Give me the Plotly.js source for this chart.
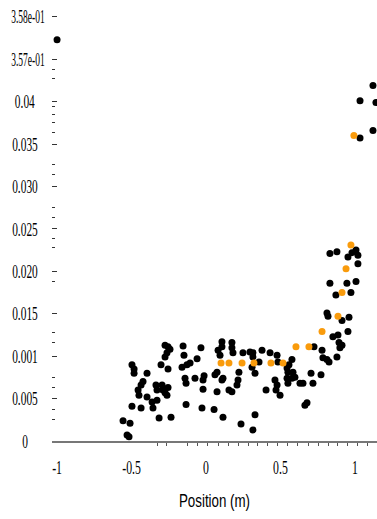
<!DOCTYPE html>
<html>
<head>
<meta charset="utf-8">
<script src="https://cdn.plot.ly/plotly-3.0.1.min.js"></script>
<style>
html,body{margin:0;padding:0;background:#fff;}
#chart{width:377px;height:519px;}
</style>
</head>
<body>
<div id="chart"></div>
<script>
// Black measurement points: position (m) and value
const blackX = [
 -0.275,-0.255,-0.242,-0.262,-0.275,-0.154,-0.148,-0.034,-0.060,-0.107,
 -0.128,-0.161,-0.302,-0.255,-0.497,-0.483,-0.483,-0.396,-0.141,-0.134,
 -0.074,-0.020,-0.020,-0.423,-0.436,-0.456,-0.450,-0.336,-0.329,-0.295,
 -0.289,-0.275,-0.255,-0.262,-0.396,-0.362,-0.356,-0.329,-0.497,-0.436,
 -0.134,-0.027,-0.315,-0.235,-0.557,-0.510,-0.530,-0.517,
 0.107,0.107,0.081,0.094,0.174,0.174,0.181,0.248,0.295,0.315,
 0.315,0.376,0.356,0.430,0.477,0.483,0.577,0.557,0.544,0.550,
 0.584,0.597,0.577,0.544,0.550,0.631,0.651,0.074,0.060,-0.013,
 0.114,0.107,0.221,0.215,0.208,0.309,0.329,0.074,0.154,0.174,
 0.403,0.463,0.477,0.470,0.497,0.054,0.114,0.329,0.235,0.315,
 1.007,1.020,0.980,0.953,0.879,0.832,1.020,1.007,0.946,0.832,
 0.973,0.872,0.812,0.819,0.913,0.960,0.953,0.852,0.886,0.893,
 0.913,0.899,0.725,0.779,0.785,0.812,0.826,0.879,0.705,0.772,
 0.718,0.678,0.664,
 1.121,1.034,1.141,1.121,1.034,-1.000
];
const blackY = [
 0.0113,0.0111,0.0108,0.0104,0.0099,0.0112,0.0101,0.0110,0.0097,0.0092,
 0.0090,0.0087,0.0090,0.0085,0.0090,0.0085,0.0080,0.0080,0.0074,0.0068,
 0.0074,0.0072,0.0061,0.0070,0.0066,0.0060,0.0054,0.0066,0.0060,0.0066,
 0.0060,0.0057,0.0063,0.0054,0.0052,0.0046,0.0039,0.0048,0.0041,0.0039,
 0.0043,0.0039,0.0027,0.0028,0.0024,0.0021,0.0007,0.0005,
 0.0117,0.0111,0.0107,0.0101,0.0116,0.0110,0.0104,0.0104,0.0105,0.0104,
 0.0099,0.0107,0.0093,0.0104,0.0101,0.0093,0.0096,0.0090,0.0086,0.0081,
 0.0081,0.0075,0.0074,0.0074,0.0068,0.0068,0.0068,0.0081,0.0078,0.0077,
 0.0074,0.0072,0.0081,0.0072,0.0066,0.0087,0.0080,0.0058,0.0060,0.0058,
 0.0060,0.0072,0.0066,0.0060,0.0054,0.0037,0.0028,0.0031,0.0020,0.0013,
 0.0225,0.0219,0.0222,0.0217,0.0223,0.0221,0.0209,0.0188,0.0186,0.0186,
 0.0175,0.0172,0.0151,0.0147,0.0142,0.0146,0.0129,0.0123,0.0125,0.0116,
 0.0113,0.0110,0.0111,0.0107,0.0098,0.0096,0.0093,0.0099,0.0080,0.0078,
 0.0068,0.0045,0.0042,
 0.0419,0.0401,0.0399,0.0366,0.0357,0.0473
];
// Orange points
const orangeX = [0.101,0.154,0.242,0.322,0.436,0.517,0.604,0.691,0.779,0.886,0.913,0.940,0.973,0.993];
const orangeY = [0.0092,0.0092,0.0092,0.0092,0.0092,0.0092,0.0111,0.0111,0.0129,0.0147,0.0175,0.0203,0.0231,0.0360];

// Axis ticks
const xTickVals = [-1,-0.5,0,0.5,1];
const xTickText = ["-1","-0.5","0","0.5","1"];
const xMinorVals = [-0.329,-0.262,-0.121,-0.054,0.013,0.081,0.148,0.215,0.282,0.349,0.416,0.483,0.550,0.617,0.685,0.752,0.819,0.886,0.953,1.020,1.087];
const yTickVals = [0,0.005,0.010,0.015,0.020,0.025,0.030,0.035,0.040,0.045,0.050];
const yTickText = ["0","0.005","0.001","0.015","0.020","0.025","0.030","0.035","0.04","3.57e-01","3.58e-01"];
const yMinorVals = [0.00248,0.00366,0.00625,0.00743,0.01156,0.01274,0.01875,0.02276,0.02382,0.02630,0.02748,0.03137,0.03255,0.03632,0.03750,0.03844,0.03939,0.04269,0.04375];

const traces = [
  {x: blackX, y: blackY, type:'scatter', mode:'markers',
   marker:{color:'#000000', size:7}, hoverinfo:'x+y', showlegend:false},
  {x: orangeX, y: orangeY, type:'scatter', mode:'markers',
   marker:{color:'#F99B0C', size:7}, hoverinfo:'x+y', showlegend:false}
];

const tickFont = {family:'"Liberation Serif", "Times New Roman", serif', size:19, color:'#000'};

const layout = {
  width:377, height:519,
  margin:{l:52, r:0, t:10, b:78},
  paper_bgcolor:'#fff', plot_bgcolor:'#fff',
  showlegend:false,
  xaxis:{
    range:[-1.034, 1.148],
    tickmode:'array', tickvals:xTickVals, ticktext:xTickText,
    ticks:'', showgrid:false, zeroline:false,
    showline:true, linecolor:'#777', linewidth:2,
    tickfont:tickFont, ticklabelstandoff:8,
    minor:{tickmode:'array', tickvals:xMinorVals, ticks:'outside', ticklen:3, tickcolor:'#555', tickwidth:1, showgrid:false},
    title:{text:'Position (m)', font:{family:'"Liberation Sans", Arial, sans-serif', size:18, color:'#000'}, standoff:18}
  },
  yaxis:{
    range:[0, 0.0508],
    tickmode:'array', tickvals:yTickVals, ticktext:yTickText,
    ticks:'inside', ticklen:5, tickcolor:'#333', tickwidth:1,
    showgrid:false, zeroline:false, showline:false,
    tickfont:tickFont, ticklabelstandoff:10,
    minor:{tickmode:'array', tickvals:yMinorVals, ticks:'inside', ticklen:3, tickcolor:'#333', tickwidth:1, showgrid:false}
  }
};

// Horizontally condense text like the reference image
function condense(t, factor) {
  const w = t.getComputedTextLength();
  if (w > 0) {
    t.setAttribute('textLength', (w * factor).toFixed(2));
    t.setAttribute('lengthAdjust', 'spacingAndGlyphs');
  }
}

Plotly.newPlot('chart', traces, layout, {displayModeBar:false, staticPlot:true}).then(function () {
  document.querySelectorAll('.xtick text').forEach(function (t) { condense(t, 0.62); });
  document.querySelectorAll('.g-xtitle text').forEach(function (t) { condense(t, 0.74); });
  const host = document.getElementById('chart').getBoundingClientRect();
  document.querySelectorAll('.ytick text').forEach(function (t) {
    const sci = t.textContent.indexOf('e') >= 0;
    condense(t, sci ? 0.5 : 0.6);
    const r = t.getBoundingClientRect();
    const cx = r.left - host.left + r.width / 2;
    const target = sci ? 28 : 25;
    const x0 = parseFloat(t.getAttribute('x') || '0');
    t.setAttribute('x', (x0 + target - cx).toFixed(2));
  });
});
</script>
</body>
</html>
